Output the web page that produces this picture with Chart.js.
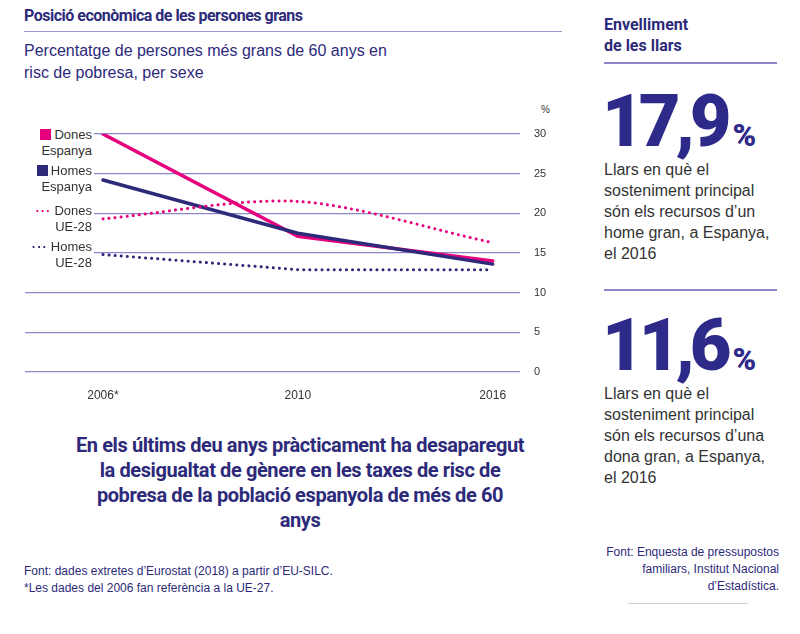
<!DOCTYPE html>
<html><head><meta charset="utf-8">
<script src="https://cdn.jsdelivr.net/npm/chart.js@4"></script>
<style>
body{margin:0;width:800px;height:634px;background:#fff;font-family:"Liberation Sans",Arial,sans-serif;color:#2d2a7a;position:relative;overflow:hidden}
.a{position:absolute}
.t{font-family:Roboto,"Liberation Sans";font-weight:bold}
.leg{position:absolute;background:#fff;text-align:right;font-size:13px;color:#333;line-height:16px;width:70px;padding-right:2px}
.sw{display:inline-block;width:11px;height:11px;margin-right:3px;vertical-align:-1px}
.dots{display:inline-block;font-weight:bold;margin-right:3px;letter-spacing:1px}
.big{font-family:Roboto,"Liberation Sans";font-weight:900;font-size:72px;letter-spacing:-5px;color:#2d2a8a;line-height:72px}
.big span{font-size:32px;letter-spacing:0;margin-left:6px}
.desc{font-size:16px;color:#333;line-height:21px}
</style></head><body>
<div class="a t" style="left:24px;top:6px;font-size:16px;letter-spacing:-0.5px">Posició econòmica de les persones grans</div>
<div class="a" style="left:24px;top:31px;width:538px;border-top:1.5px solid #9b98d0"></div>
<div class="a" style="left:24px;top:40px;font-size:16px;line-height:22px;color:#2d2a7a">Percentatge de persones més grans de 60 anys en<br>risc de pobresa, per sexe</div>
<div class="a" style="left:541px;top:104px;font-size:10px;color:#333">%</div>
<canvas id="c" class="a" style="left:20px;top:100px"></canvas>
<div class="leg" style="left:22px;top:127px"><span class="sw" style="background:#e6007e"></span>Dones<br>Espanya</div>
<div class="leg" style="left:22px;top:163px"><span class="sw" style="background:#2d2a7a"></span>Homes<br>Espanya</div>
<div class="leg" style="left:22px;top:203px"><span class="dots" style="color:#e6007e">···</span>Dones<br>UE-28</div>
<div class="leg" style="left:22px;top:239px"><span class="dots" style="color:#2d2a7a">···</span>Homes<br>UE-28</div>
<div class="a t" style="left:75px;top:433px;width:450px;text-align:center;font-size:20px;line-height:25px;letter-spacing:-0.4px">En els últims deu anys pràcticament ha desaparegut la desigualtat de gènere en les taxes de risc de pobresa de la població espanyola de més de 60 anys</div>
<div class="a" style="left:24px;top:563px;font-size:12px;line-height:17px;color:#2d2a7a">Font: dades extretes d’Eurostat (2018) a partir d’EU-SILC.<br>*Les dades del 2006 fan referència a la UE-27.</div>
<div class="a t" style="left:604px;top:14px;font-size:16px;line-height:21px">Envelliment<br>de les llars</div>
<div class="a" style="left:604px;top:62px;width:173px;border-top:2px solid #8a86c8"></div>
<div class="a big" style="left:602px;top:86px">17,9<span>%</span></div>
<div class="a desc" style="left:604px;top:159px">Llars en què el<br>sosteniment principal<br>són els recursos d’un<br>home gran, a Espanya,<br>el 2016</div>
<div class="a" style="left:604px;top:289px;width:173px;border-top:2px solid #8a86c8"></div>
<div class="a big" style="left:602px;top:310px">11,6<span>%</span></div>
<div class="a desc" style="left:604px;top:383px">Llars en què el<br>sosteniment principal<br>són els recursos d’una<br>dona gran, a Espanya,<br>el 2016</div>
<div class="a" style="left:580px;top:544px;width:199px;text-align:right;font-size:12px;line-height:17px">Font: Enquesta de pressupostos<br>familiars, Institut Nacional<br>d’Estadística.</div>
<div class="a" style="left:628px;top:603px;width:120px;border-top:1px solid #ccc"></div>
<script>
const years = ['2006*', '2010', '2016'];
const donesEspanya = [30.0, 17.1, 14.0];
const homesEspanya = [24.2, 17.5, 13.6];
const donesUE = [19.3, 21.5, 16.3];
const homesUE = [14.8, 12.9, 12.9];
const yTicks = [0, 5, 10, 15, 20, 25, 30];

const pink = '#e6007e', navy = '#2d2a7a';
function serie(vals, color, dotted, tension) {
  return {
    data: vals.map((v, i) => ({x: i, y: v})),
    borderColor: color, borderWidth: dotted ? 3 : 3.5, pointRadius: 0,
    borderDash: dotted ? [0.1, 6] : [], borderCapStyle: 'round',
    tension: tension
  };
}
const cv = document.getElementById('c');
cv.width = 560; cv.height = 300;
new Chart(cv, {
  type: 'line',
  data: {datasets: [
    serie(homesUE, navy, true, 0),
    serie(donesUE, pink, true, 0.3),
    serie(homesEspanya, navy, false, 0),
    serie(donesEspanya, pink, false, 0)
  ]},
  options: {
    responsive: false, animation: false,
    layout: {padding: {top: 34, left: 5}},
    plugins: {legend: {display: false}, tooltip: {enabled: false}},
    scales: {
      x: {
        type: 'linear', min: -0.4, max: 2.14,
        afterBuildTicks: ax => { ax.ticks = years.map((y, i) => ({value: i})); },
        ticks: {callback: v => years[v], color: '#333', font: {size: 12}, padding: 8},
        grid: {display: false}, border: {display: false},
        afterFit: ax => { ax.height = 28; }
      },
      y: {
        position: 'right', min: 0, max: 30,
        afterBuildTicks: ax => { ax.ticks = yTicks.map(v => ({value: v})); },
        ticks: {color: '#333', font: {size: 11}, padding: 14},
        grid: {color: '#8a86c8', lineWidth: 1.2, drawTicks: false},
        border: {display: false},
        afterFit: ax => { ax.width = 60; }
      }
    }
  }
});
</script>
</body></html>
